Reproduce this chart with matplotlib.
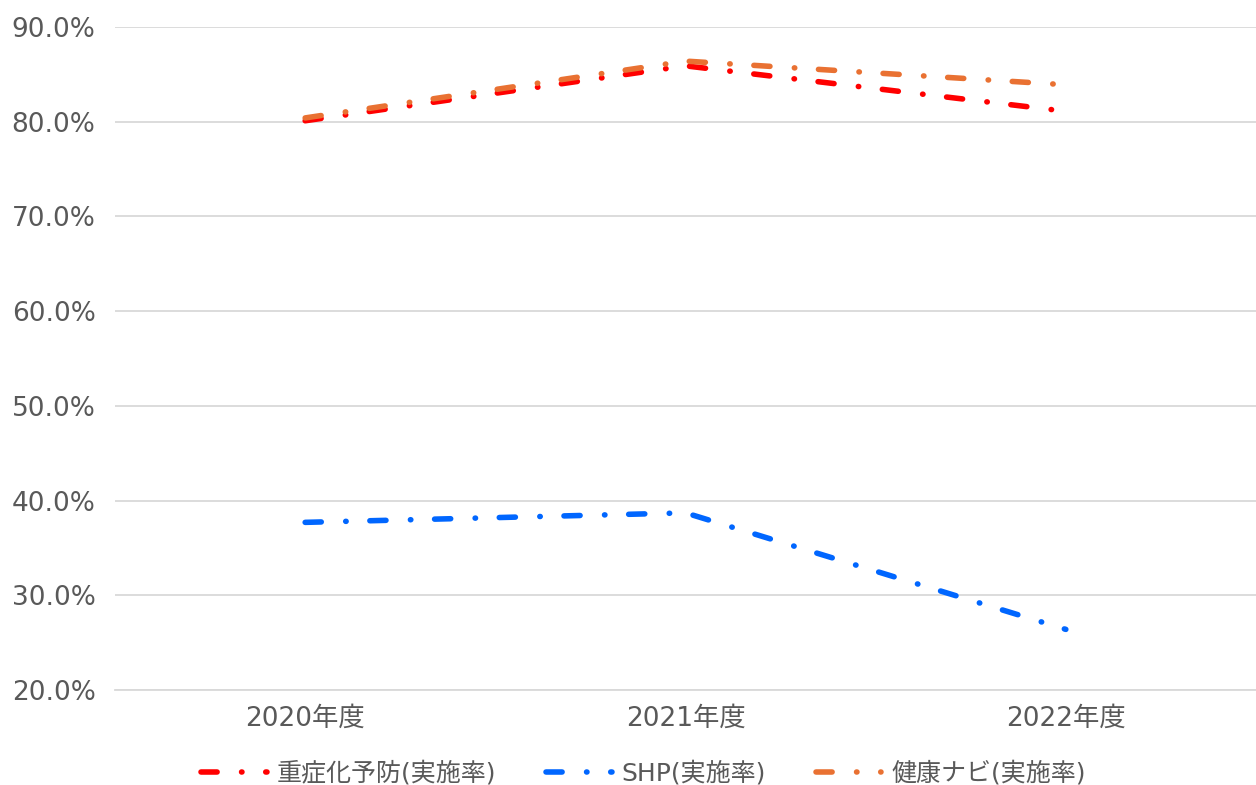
import numpy as np
import matplotlib
matplotlib.use("Agg")
import matplotlib.pyplot as plt
from matplotlib.ticker import FuncFormatter

plt.rcParams['font.family'] = ['DejaVu Sans', 'Noto Sans CJK JP']
plt.rcParams['lines.scale_dashes'] = False

# Data
years = ["2020年度", "2021年度", "2022年度"]
series_names = ["重症化予防(実施率)", "SHP(実施率)", "健康ナビ(実施率)"]
severe_prevention = [80.1, 85.9, 81.1]
shp = [37.7, 38.7, 26.4]
health_navi = [80.4, 86.4, 83.9]

colors = ["#FF0000", "#0066FF", "#E97132"]
dash_pattern = (0, (11.6, 17.6, 0.3, 17.1))  # long dash, dot
LW = 4.0
TICK_FS = 19
LEGEND_FS = 18

fig = plt.figure(figsize=(12.56, 7.85), dpi=100)
ax = fig.add_axes([115 / 1256, 1 - 690 / 785, 1 - 115 / 1256, (690 - 27) / 785])

x = np.arange(len(years))
lines = []
for vals, c, name in zip([severe_prevention, shp, health_navi], colors, series_names):
    ln, = ax.plot(x, vals, color=c, lw=LW, linestyle=dash_pattern,
                  dash_capstyle='round', solid_capstyle='round',
                  dash_joinstyle='round', label=name, zorder=3)
    lines.append(ln)

ax.set_xlim(-0.5, 2.5)
ax.set_ylim(20, 90)
ax.set_yticks(np.arange(20, 91, 10))
ax.yaxis.set_major_formatter(FuncFormatter(lambda v, p: f"{v:.1f}%"))
ax.set_xticks(x)
ax.set_xticklabels(years)

ax.grid(axis='y', color='#D9D9D9', lw=1.3, zorder=0)
ax.set_axisbelow(True)
for s in ['top', 'right', 'left']:
    ax.spines[s].set_visible(False)
ax.spines['bottom'].set_color('#D9D9D9')
ax.spines['bottom'].set_linewidth(1.3)

ax.tick_params(axis='both', length=0, labelsize=TICK_FS, labelcolor='#595959')
ax.tick_params(axis='y', pad=14)
ax.tick_params(axis='x', pad=11)

fig.legend(lines, series_names, loc='center', bbox_to_anchor=(0.5123, 0.0153),
           ncol=3, frameon=False, fontsize=LEGEND_FS, handlelength=2.62,
           handletextpad=0.4, columnspacing=2.0, labelcolor='#595959')

fig.savefig("out.png", dpi=100, facecolor='white')
